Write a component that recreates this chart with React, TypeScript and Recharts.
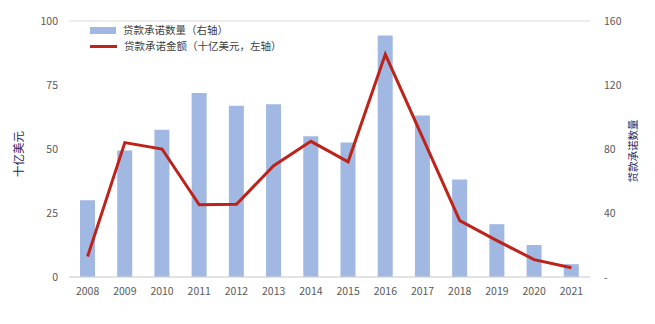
import { ComposedChart, Bar, Line, XAxis, YAxis, CartesianGrid } from 'recharts';

const years = ['2008', '2009', '2010', '2011', '2012', '2013', '2014', '2015', '2016', '2017', '2018', '2019', '2020', '2021'];
// 贷款承诺数量（右轴）
const loanCounts = [48, 79, 92, 115, 107, 108, 88, 84, 151, 101, 61, 33, 20, 8];
// 贷款承诺金额（十亿美元，左轴）
const loanAmounts = [8, 52.5, 50, 28.2, 28.4, 43.5, 53, 45, 87, 54.5, 22, 14.2, 6.8, 3.6];

const leftTicks = [0, 25, 50, 75, 100];
const rightTicks = [0, 40, 80, 120, 160];

const data = years.map((year, i) => ({
  year,
  count: loanCounts[i],
  amount: loanAmounts[i],
}));

const FONT = '"Noto Sans CJK SC", "Noto Sans", sans-serif';
const BAR_COLOR = '#a0b8e2';
const LINE_COLOR = '#be2319';
const TICK_COLOR = '#595959';

function ChartLegend() {
  const row = { display: 'flex', alignItems: 'center', height: 16 } as const;
  const text = { fontSize: 10.5, color: '#404040', fontFamily: FONT, marginLeft: 7, lineHeight: '16px', whiteSpace: 'nowrap' } as const;
  return (
    <div style={{ position: 'absolute', left: 90, top: 22 }}>
      <div style={row}>
        <span style={{ display: 'inline-block', width: 26, height: 7, background: BAR_COLOR }} />
        <span style={text}>贷款承诺数量（右轴）</span>
      </div>
      <div style={row}>
        <span style={{ display: 'inline-block', width: 27, height: 3, background: LINE_COLOR }} />
        <span style={text}>贷款承诺金额（十亿美元，左轴）</span>
      </div>
    </div>
  );
}

export default function App() {
  return (
    <div style={{ position: 'absolute', left: 0, top: 0, width: 655, height: 324, background: '#fff' }}>
      <ComposedChart
        width={655}
        height={324}
        data={data}
        margin={{ top: 21, right: 0, left: 0, bottom: 26 }}
      >
        <CartesianGrid vertical={false} stroke="#d9d9d9" />
        <XAxis
          dataKey="year"
          height={21}
          tickLine={false}
          axisLine={{ stroke: '#d9d9d9' }}
          tick={{ fill: TICK_COLOR, fontSize: 10.5, fontFamily: FONT }}
          tickMargin={5}
          interval={0}
        />
        <YAxis
          yAxisId="left"
          orientation="left"
          width={69}
          domain={[0, 100]}
          ticks={leftTicks}
          tickLine={false}
          axisLine={false}
          tickMargin={5}
          tick={{ fill: TICK_COLOR, fontSize: 10.5, fontFamily: FONT }}
        />
        <YAxis
          yAxisId="right"
          orientation="right"
          width={65}
          domain={[0, 160]}
          ticks={rightTicks}
          tickLine={false}
          axisLine={false}
          tickMargin={8}
          tickFormatter={(v) => (v === 0 ? '-' : String(v))}
          tick={{ fill: TICK_COLOR, fontSize: 10.5, fontFamily: FONT }}
        />
        <Bar yAxisId="right" dataKey="count" fill={BAR_COLOR} barSize={15} isAnimationActive={false} />
        <Line
          yAxisId="left"
          dataKey="amount"
          type="linear"
          stroke={LINE_COLOR}
          strokeWidth={3}
          dot={false}
          activeDot={false}
          isAnimationActive={false}
        />
      </ComposedChart>
      <ChartLegend />
      <svg width={655} height={324} style={{ position: 'absolute', left: 0, top: 0, pointerEvents: 'none' }}>
        <text
          x={18}
          y={154}
          transform="rotate(-90 18 154)"
          textAnchor="middle"
          dominantBaseline="central"
          fontSize={11.5}
          fontFamily={FONT}
          fill="#262660"
        >
          十亿美元
        </text>
        <text
          x={632}
          y={151}
          transform="rotate(-90 632 151)"
          textAnchor="middle"
          dominantBaseline="central"
          fontSize={10.5}
          fontFamily={FONT}
          fill="#262660"
        >
          贷款承诺数量
        </text>
      </svg>
    </div>
  );
}
